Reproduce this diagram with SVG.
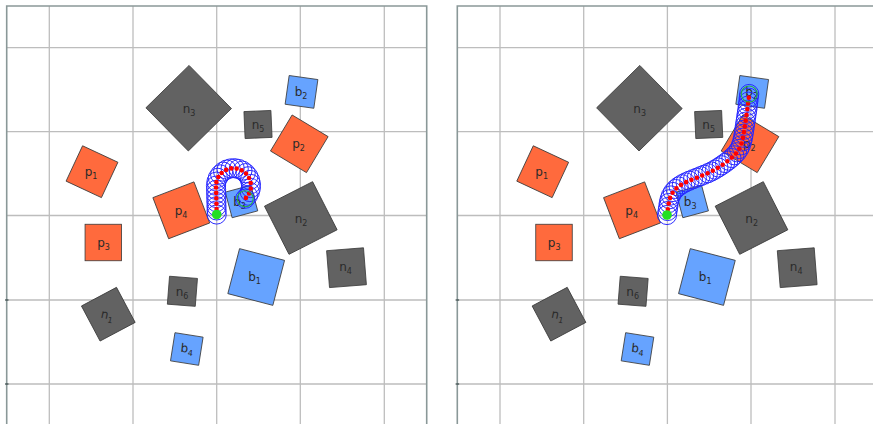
<svg xmlns="http://www.w3.org/2000/svg" width="873" height="424" viewBox="0 0 873 424">
<style>
.bg{fill:#ffffff}
.grid line{stroke:#bdbdbd;stroke-width:1.3}
.frame{fill:none;stroke:#8a9898;stroke-width:1.6}
.tick{stroke:#3a4a4a;stroke-width:1.2}
.box{stroke:#3a3a3a;stroke-width:0.8}
.n{fill:#626262}
.p{fill:#ff6a3d}
.b{fill:#66a3ff}
.lbl{font-family:"DejaVu Sans","Liberation Sans",sans-serif;font-size:12px;fill:#2a2a2a;text-anchor:middle}
.sub{font-size:8px}
.traj{fill:none;stroke:none;marker-start:url(#pt);marker-mid:url(#pt);marker-end:url(#pt)}
.dots{fill:none;stroke:#ff0000;stroke-width:4.6;stroke-linecap:round;stroke-dasharray:0 5.8}
.start{fill:#22e022}
.goal{fill:none;stroke:#22aa44;stroke-width:1.1}
</style>
<defs>
<marker id="pt" markerUnits="userSpaceOnUse" markerWidth="24" markerHeight="24" viewBox="-12 -12 24 24" refX="0" refY="0" orient="0" overflow="visible">
<circle r="9.6" fill="none" stroke="#2424ff" stroke-width="0.95"/>
</marker>
</defs>
<rect class="bg" x="0" y="0" width="873" height="424"/>

<!-- LEFT PANEL -->
<g id="grid-left" class="grid">
<line x1="49.3" y1="6" x2="49.3" y2="424"/>
<line x1="133" y1="6" x2="133" y2="424"/>
<line x1="216.7" y1="6" x2="216.7" y2="424"/>
<line x1="300.3" y1="6" x2="300.3" y2="424"/>
<line x1="384.3" y1="6" x2="384.3" y2="424"/>
<line x1="6.7" y1="47.7" x2="426.7" y2="47.7"/>
<line x1="6.7" y1="131.7" x2="426.7" y2="131.7"/>
<line x1="6.7" y1="215.5" x2="426.7" y2="215.5"/>
<line x1="6.7" y1="300" x2="426.7" y2="300"/>
<line x1="6.7" y1="384" x2="426.7" y2="384"/>
</g>
<path class="frame" d="M6.7,424 V6 H426.7 V424"/>
<line class="tick" x1="5" y1="300" x2="8.5" y2="300"/>
<line class="tick" x1="5" y1="384" x2="8.5" y2="384"/>

<g id="n3-L"><rect class="box n" x="-30.25" y="-30.25" width="60.5" height="60.5" transform="translate(188.7,108.2) rotate(45.5)"/><text class="lbl" x="189" y="112.5">n<tspan class="sub" dy="3">3</tspan></text></g>
<g id="n5-L"><rect class="box n" x="-13.5" y="-13.5" width="27" height="27" transform="translate(258,124.5) rotate(-2.5)"/><text class="lbl" x="258" y="129">n<tspan class="sub" dy="3">5</tspan></text></g>
<g id="b2-L"><rect class="box b" x="-14.5" y="-14.5" width="29" height="29" transform="translate(301.5,91.9) rotate(8)"/><text class="lbl" x="301" y="96">b<tspan class="sub" dy="3">2</tspan></text></g>
<g id="p2-L"><rect class="box p" x="-21" y="-21" width="42" height="42" transform="translate(299.3,143.8) rotate(31)"/><text class="lbl" x="298.5" y="148">p<tspan class="sub" dy="3">2</tspan></text></g>
<g id="p1-L"><rect class="box p" x="-19.5" y="-19.5" width="39" height="39" transform="translate(92,171.7) rotate(25)"/><text class="lbl" x="91" y="176">p<tspan class="sub" dy="3">1</tspan></text></g>
<g id="p4-L"><rect class="box p" x="-22" y="-22" width="44" height="44" transform="translate(181.3,210.3) rotate(-21)"/><text class="lbl" x="181" y="214.5">p<tspan class="sub" dy="3">4</tspan></text></g>
<g id="p3-L"><rect class="box p" x="-18.25" y="-18.25" width="36.5" height="36.5" transform="translate(103.3,242.5)"/><text class="lbl" x="103.5" y="246.5">p<tspan class="sub" dy="3">3</tspan></text></g>
<g id="b3-L"><rect class="box b" x="-13.25" y="-13.25" width="26.5" height="26.5" transform="translate(241.5,201.5) rotate(-15)"/><text class="lbl" x="239.5" y="205.5">b<tspan class="sub" dy="3">3</tspan></text></g>
<g id="n2-L"><rect class="box n" x="-27" y="-27" width="54" height="54" transform="translate(300.8,218) rotate(-27)"/><text class="lbl" x="301" y="222.5">n<tspan class="sub" dy="3">2</tspan></text></g>
<g id="n4-L"><rect class="box n" x="-18.5" y="-18.5" width="37" height="37" transform="translate(346.5,267.7) rotate(-4.5)"/><text class="lbl" x="345.5" y="271">n<tspan class="sub" dy="3">4</tspan></text></g>
<g id="b1-L"><rect class="box b" x="-23.25" y="-23.25" width="46.5" height="46.5" transform="translate(256.2,277) rotate(14.6)"/><text class="lbl" x="254.5" y="281">b<tspan class="sub" dy="3">1</tspan></text></g>
<g id="n6-L"><rect class="box n" x="-14" y="-14" width="28" height="28" transform="translate(182.4,291.3) rotate(4.5)"/><text class="lbl" x="182" y="295.5">n<tspan class="sub" dy="3">6</tspan></text></g>
<g id="n1-L"><rect class="box n" x="-19.85" y="-19.85" width="39.7" height="39.7" transform="translate(108.3,314.2) rotate(-28)"/><text class="lbl" x="107" y="319" transform="rotate(12 107 316)">n<tspan class="sub" dy="3">1</tspan></text></g>
<g id="b4-L"><rect class="box b" x="-14.25" y="-14.25" width="28.5" height="28.5" transform="translate(186.8,349) rotate(9)"/><text class="lbl" x="187" y="352.5" transform="rotate(6 187 349)">b<tspan class="sub" dy="3">4</tspan></text></g>

<!-- RIGHT PANEL -->
<g id="grid-right" class="grid">
<line x1="500" y1="6" x2="500" y2="424"/>
<line x1="583.7" y1="6" x2="583.7" y2="424"/>
<line x1="667.4" y1="6" x2="667.4" y2="424"/>
<line x1="751" y1="6" x2="751" y2="424"/>
<line x1="835" y1="6" x2="835" y2="424"/>
<line x1="457.3" y1="47.7" x2="873" y2="47.7"/>
<line x1="457.3" y1="131.7" x2="873" y2="131.7"/>
<line x1="457.3" y1="215.5" x2="873" y2="215.5"/>
<line x1="457.3" y1="300" x2="873" y2="300"/>
<line x1="457.3" y1="384" x2="873" y2="384"/>
</g>
<path class="frame" d="M457.3,424 V6 H873"/>
<line class="tick" x1="455.6" y1="300" x2="459.1" y2="300"/>
<line class="tick" x1="455.6" y1="384" x2="459.1" y2="384"/>

<g id="n3-R"><rect class="box n" x="-30.25" y="-30.25" width="60.5" height="60.5" transform="translate(639.4,108.2) rotate(45.5)"/><text class="lbl" x="639.7" y="112.5">n<tspan class="sub" dy="3">3</tspan></text></g>
<g id="n5-R"><rect class="box n" x="-13.5" y="-13.5" width="27" height="27" transform="translate(708.7,124.5) rotate(-2.5)"/><text class="lbl" x="708.7" y="129">n<tspan class="sub" dy="3">5</tspan></text></g>
<g id="b2-R"><rect class="box b" x="-14.5" y="-14.5" width="29" height="29" transform="translate(752.2,91.9) rotate(8)"/><text class="lbl" x="751.7" y="96">b<tspan class="sub" dy="3">2</tspan></text></g>
<g id="p2-R"><rect class="box p" x="-21" y="-21" width="42" height="42" transform="translate(750,143.8) rotate(31)"/><text class="lbl" x="749.2" y="148">p<tspan class="sub" dy="3">2</tspan></text></g>
<g id="p1-R"><rect class="box p" x="-19.5" y="-19.5" width="39" height="39" transform="translate(542.7,171.7) rotate(25)"/><text class="lbl" x="541.7" y="176">p<tspan class="sub" dy="3">1</tspan></text></g>
<g id="p4-R"><rect class="box p" x="-22" y="-22" width="44" height="44" transform="translate(632,210.3) rotate(-21)"/><text class="lbl" x="631.7" y="214.5">p<tspan class="sub" dy="3">4</tspan></text></g>
<g id="p3-R"><rect class="box p" x="-18.25" y="-18.25" width="36.5" height="36.5" transform="translate(554,242.5)"/><text class="lbl" x="554.2" y="246.5">p<tspan class="sub" dy="3">3</tspan></text></g>
<g id="b3-R"><rect class="box b" x="-13.25" y="-13.25" width="26.5" height="26.5" transform="translate(692.2,201.5) rotate(-15)"/><text class="lbl" x="690.2" y="205.5">b<tspan class="sub" dy="3">3</tspan></text></g>
<g id="n2-R"><rect class="box n" x="-27" y="-27" width="54" height="54" transform="translate(751.5,218) rotate(-27)"/><text class="lbl" x="751.7" y="222.5">n<tspan class="sub" dy="3">2</tspan></text></g>
<g id="n4-R"><rect class="box n" x="-18.5" y="-18.5" width="37" height="37" transform="translate(797.2,267.7) rotate(-4.5)"/><text class="lbl" x="796.2" y="271">n<tspan class="sub" dy="3">4</tspan></text></g>
<g id="b1-R"><rect class="box b" x="-23.25" y="-23.25" width="46.5" height="46.5" transform="translate(706.9,277) rotate(14.6)"/><text class="lbl" x="705.2" y="281">b<tspan class="sub" dy="3">1</tspan></text></g>
<g id="n6-R"><rect class="box n" x="-14" y="-14" width="28" height="28" transform="translate(633.1,291.3) rotate(4.5)"/><text class="lbl" x="632.7" y="295.5">n<tspan class="sub" dy="3">6</tspan></text></g>
<g id="n1-R"><rect class="box n" x="-19.85" y="-19.85" width="39.7" height="39.7" transform="translate(559,314.2) rotate(-28)"/><text class="lbl" x="557.7" y="319" transform="rotate(12 557.7 316)">n<tspan class="sub" dy="3">1</tspan></text></g>
<g id="b4-R"><rect class="box b" x="-14.25" y="-14.25" width="28.5" height="28.5" transform="translate(637.5,349) rotate(9)"/><text class="lbl" x="637.7" y="352.5" transform="rotate(6 637.7 349)">b<tspan class="sub" dy="3">4</tspan></text></g>

<!-- CONNECTORS: trajectories -->
<g id="connectors">
<path id="traj-L" class="traj" d="M216.7,214.5 L216.6,210.4 216.5,206.3 216.4,202.1 216.3,198 216.2,193.9 216.1,189.8 216.0,185.7 216.48,181.64 217.88,177.81 220.14,174.40 223.13,171.61 226.68,169.58 230.60,168.44 234.68,168.24 238.70,168.99 242.44,170.65 245.69,173.14 248.26,176.30 250.04,179.99 250.91,183.98 250.84,188.06 249.82,192.02 247.91,195.63 245.21,198.70"/>
<path class="dots" style="stroke-dasharray:0 5.4" d="M216.7,214.5 L216.6,210.4 216.5,206.3 216.4,202.1 216.3,198 216.2,193.9 216.1,189.8 216.0,185.7 216.48,181.64 217.88,177.81 220.14,174.40 223.13,171.61 226.68,169.58 230.60,168.44 234.68,168.24 238.70,168.99 242.44,170.65 245.69,173.14 248.26,176.30 250.04,179.99 250.91,183.98 250.84,188.06 249.82,192.02 247.91,195.63 245.21,198.70"/>
<circle class="start" cx="216.7" cy="214.5" r="4.8"/>
<circle class="goal" cx="245.21" cy="198.7" r="8"/>
<path id="traj-R" class="traj" d="M667.0,215.0 L667.6,211.0 668.2,207.0 668.8,203.0 669.6,199.2 671.0,195.5 673.0,192.0 675.6,189.0 678.6,186.5 682.0,184.3 685.6,182.4 689.3,180.7 693.0,179.2 696.8,177.7 700.5,176.2 704.2,174.7 707.9,173.2 711.5,171.5 715.0,169.6 718.4,167.5 721.8,165.3 725.1,163.0 728.3,160.6 731.4,158.0 734.3,155.3 737.0,152.3 739.2,149.0 740.9,145.4 742.1,141.6 743.0,137.7 743.7,133.7 744.3,129.7 744.9,125.7 745.5,121.7 746.1,117.7 746.7,113.7 747.3,109.7 747.8,105.7 748.3,101.7 748.8,97.7 749.2,94.0"/>
<path class="dots" d="M667.0,215.0 L667.6,211.0 668.2,207.0 668.8,203.0 669.6,199.2 671.0,195.5 673.0,192.0 675.6,189.0 678.6,186.5 682.0,184.3 685.6,182.4 689.3,180.7 693.0,179.2 696.8,177.7 700.5,176.2 704.2,174.7 707.9,173.2 711.5,171.5 715.0,169.6 718.4,167.5 721.8,165.3 725.1,163.0 728.3,160.6 731.4,158.0 734.3,155.3 737.0,152.3 739.2,149.0 740.9,145.4 742.1,141.6 743.0,137.7 743.7,133.7 744.3,129.7 744.9,125.7 745.5,121.7 746.1,117.7 746.7,113.7 747.3,109.7 747.8,105.7 748.3,101.7 748.8,97.7 749.2,94.0"/>
<circle class="start" cx="667" cy="215" r="4.8"/>
<circle class="goal" cx="749.2" cy="94" r="8"/>
</g>
</svg>
